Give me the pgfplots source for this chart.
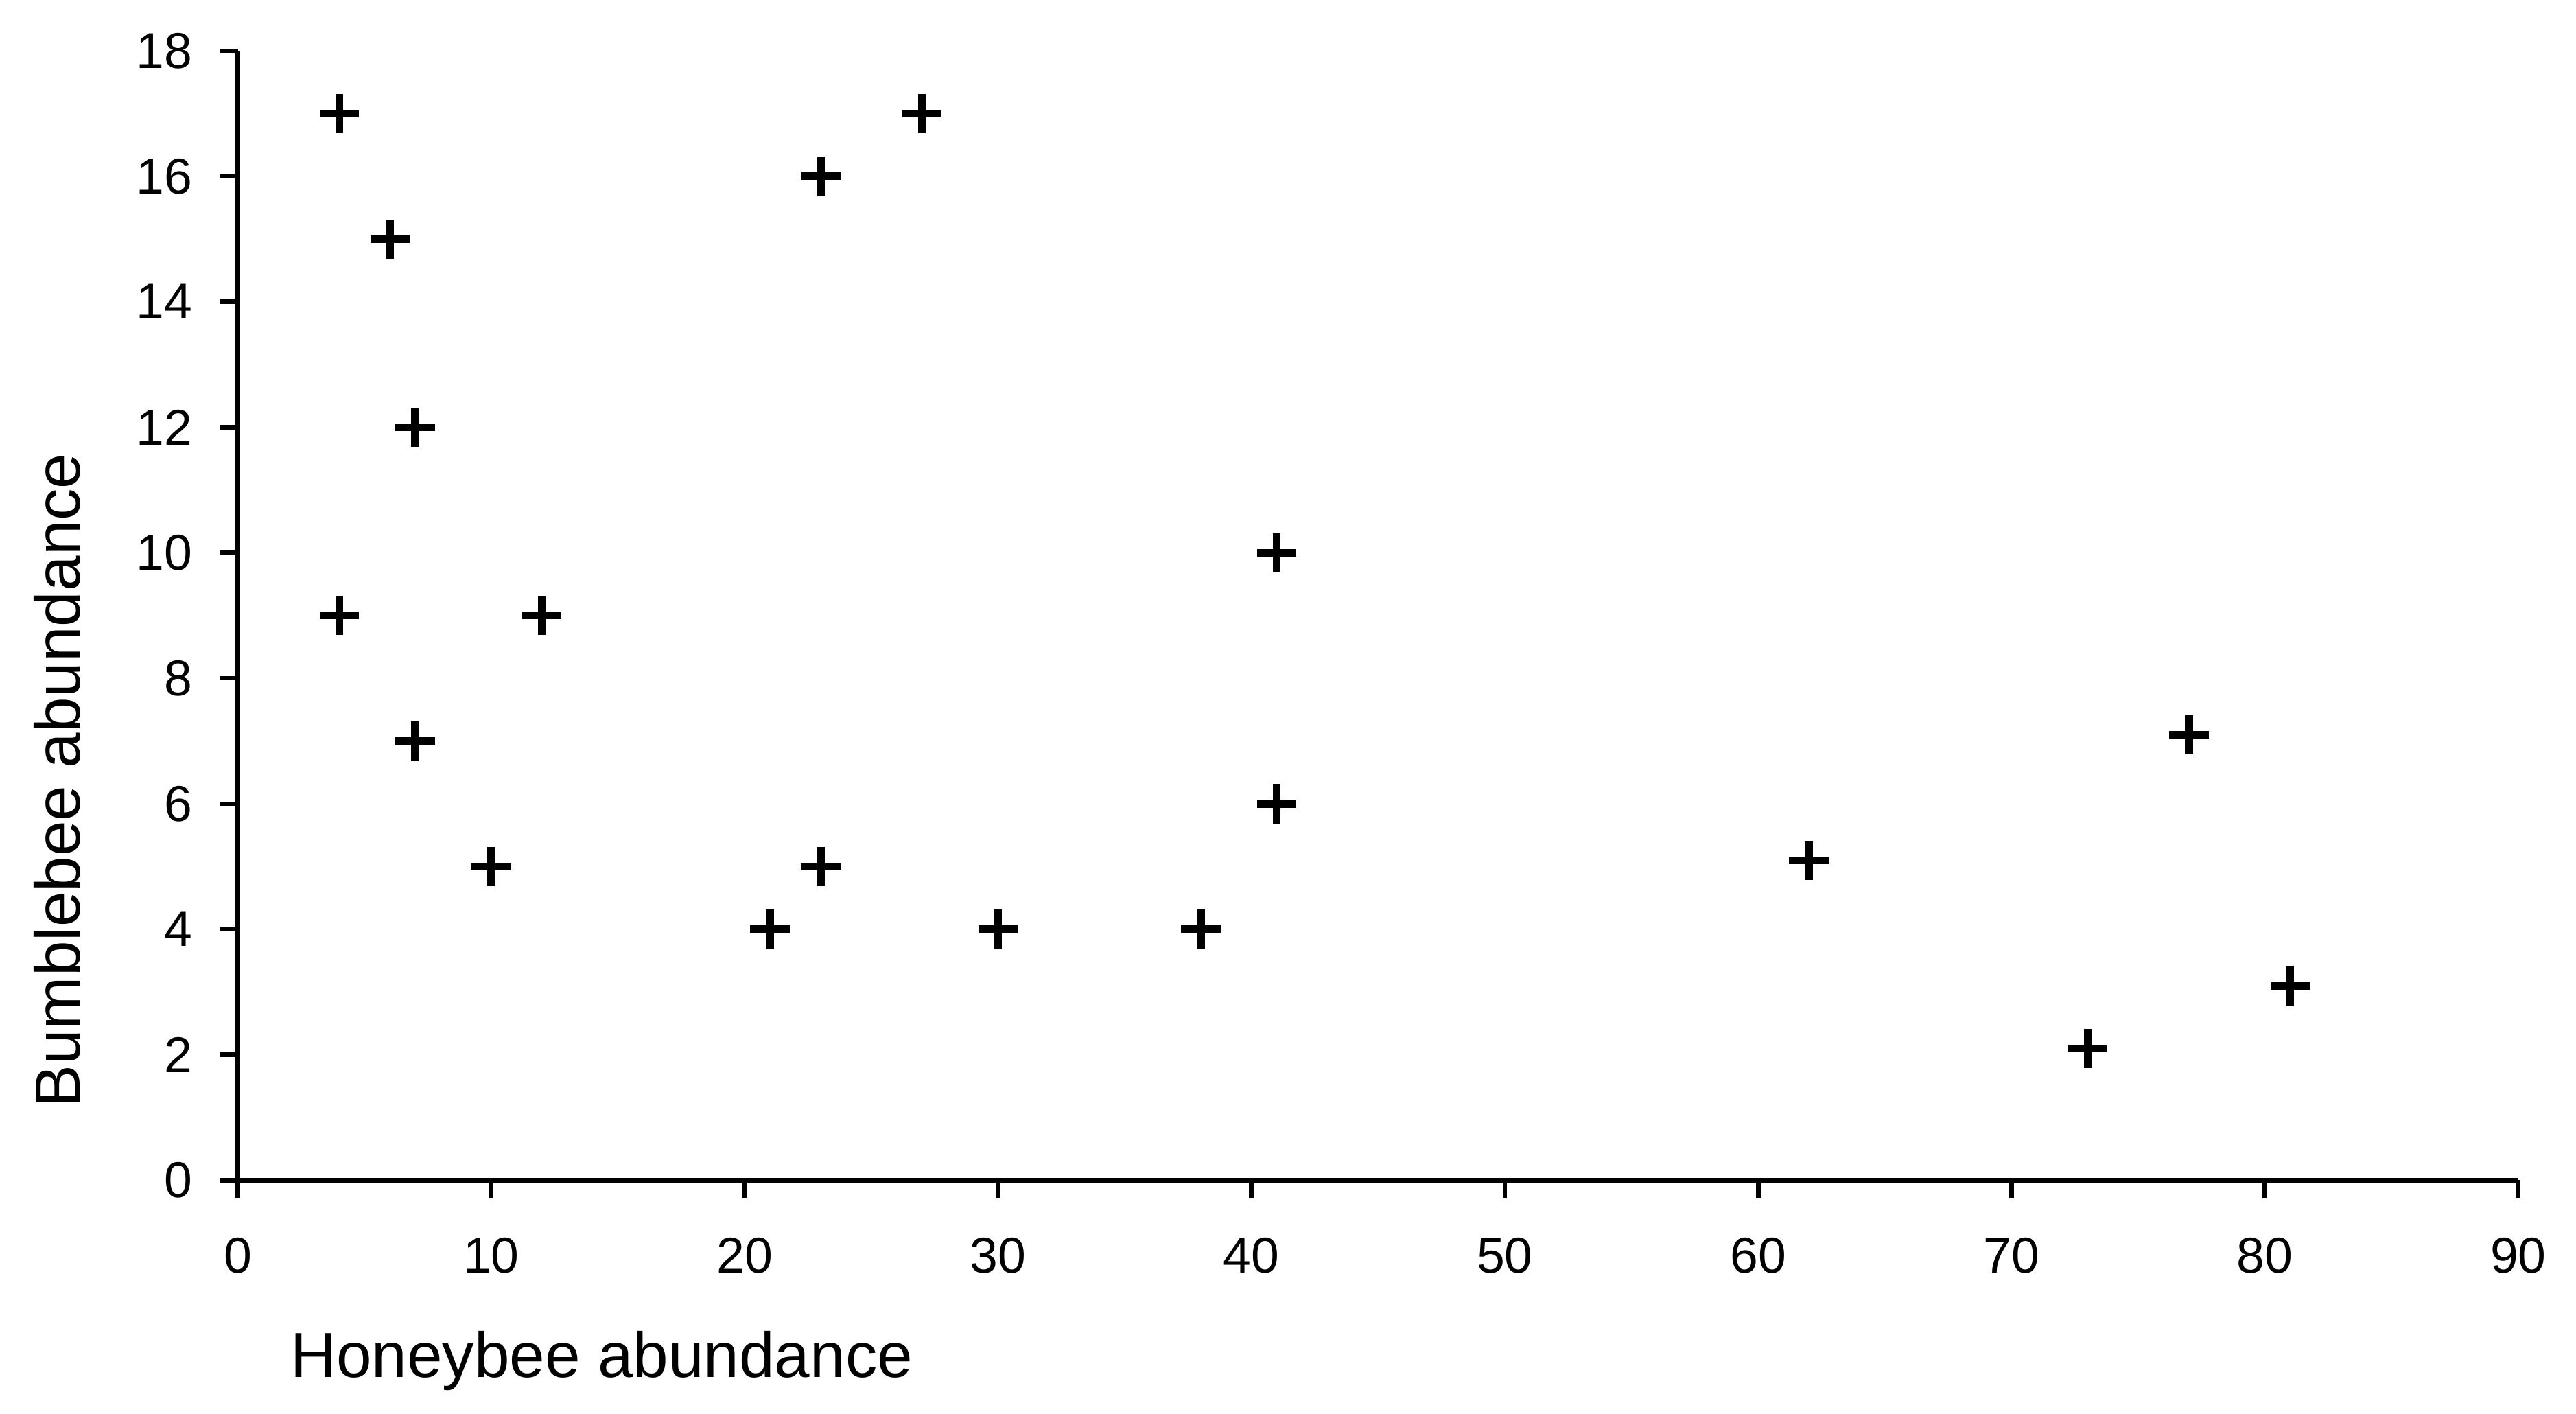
\documentclass[border=0pt]{standalone}
\usepackage{pgfplots}
\pgfplotsset{compat=1.18}
\usepackage{fontspec}
\setmainfont{Liberation Sans}
\begin{document}
\begin{tikzpicture}
\begin{axis}[
  at={(0,0)}, anchor=origin,
  scale only axis,
  width=498.5pt, height=246.8pt,
  xmin=0, xmax=90, ymin=0, ymax=18,
  axis lines=left,
  axis line style={-, line width=1pt},
  every tick/.style={line width=1pt, black},
  tick align=outside,
  major tick length=4pt,
  xtick={0,10,...,90},
  ytick={0,2,...,18},
  minor tick num=0,
  /pgf/number format/assume math mode=true,
  tick label style={font=\fontsize{11}{13}\selectfont},
  xticklabel style={yshift=-5pt},
  yticklabel style={xshift=-2.4pt},
  xlabel={Honeybee abundance},
  ylabel={Bumblebee abundance},
  label style={font=\fontsize{13.9}{16}\selectfont},
  x label style={at={([yshift=-39.5pt]axis description cs:0.1595,0)}, anchor=center},
  y label style={at={([xshift=-39.5pt]axis description cs:0,0.354)}, anchor=center},
  clip=false,
]
\addplot[only marks, mark=+, mark size=4.3pt, line width=1.7pt, black] coordinates {
  (4,17) (6,15) (7,12) (4,9) (12,9) (7,7) (10,5) (21,4) (23,5) (23,16) (27,17)
  (30,4) (38,4) (41,10) (41,6) (62,5.1) (73,2.1) (77,7.1) (81,3.1)
};
\end{axis}
\pgfresetboundingbox
\path (-52pt,-51pt) rectangle (511.1pt,257.9pt);
\end{tikzpicture}
\end{document}
